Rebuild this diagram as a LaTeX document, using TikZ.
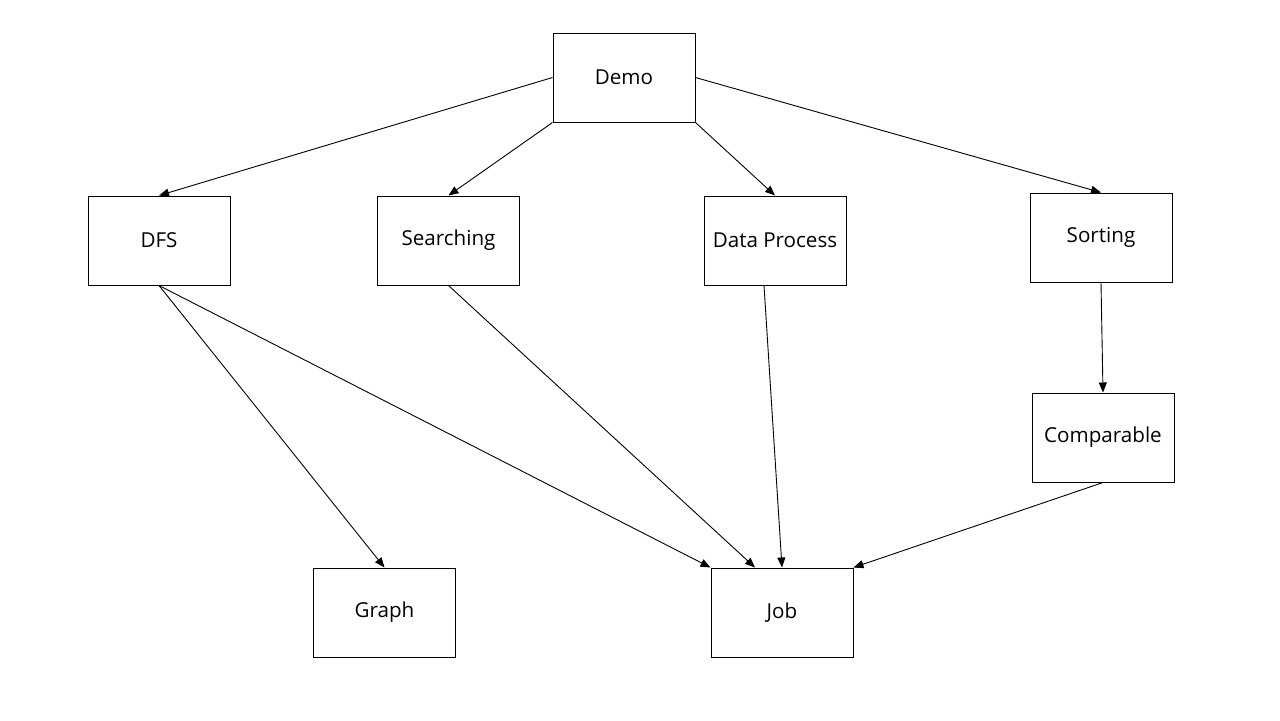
\documentclass[tikz,border=0pt]{standalone}
\usepackage{fontspec}
\setmainfont{Open Sans}
\usetikzlibrary{arrows.meta}
\tikzset{
	cls/.style={draw, line width=0.5pt, minimum width=71pt, minimum height=44.5pt, inner sep=0pt, font=\fontsize{10.3}{12}\selectfont},
	dep/.style={line width=0.45pt, -{Triangle[length=5pt, width=4pt]}}
}
\begin{document}
\begin{tikzpicture}[x=0.5pt, y=-0.5pt]
				\useasboundingbox (0,0) rectangle (1280,720);
				\node[cls] (demo) at (624,77.5) {Demo};
				\node[cls] (dfs) at (159,240.5) {DFS};
				\node[cls] (searching) at (448.5,240.5) {Searching};
				\node[cls] (dataproc) at (775,240.5) {Data Process};
				\node[cls] (sorting) at (1101,237.5) {Sorting};
				\node[cls] (comparable) at (1103,437.5) {Comparable};
				\node[cls] (graph) at (384.5,612.5) {Graph};
				\node[cls] (job) at (782,612.5) {Job};
				\draw [dep] (demo.west) -- (dfs.north);
				\draw [dep] (demo.south west) -- (searching.north);
				\draw [dep] (demo.south east) -- (dataproc.north);
				\draw [dep] (demo.east) -- (sorting.north);
				\draw [dep] (dfs.south) -- (graph.north);
				\draw [dep] (dfs.south) -- (job.north west);
				\draw [dep] (searching.south) -- ([xshift=-13.5pt]job.north);
				\draw [dep] ([xshift=-5.5pt]dataproc.south) -- (job.north);
				\draw [dep] (sorting.south) -- (comparable.north);
				\draw [dep] (comparable.south) -- (job.north east);
		\end{tikzpicture}
\end{document}
